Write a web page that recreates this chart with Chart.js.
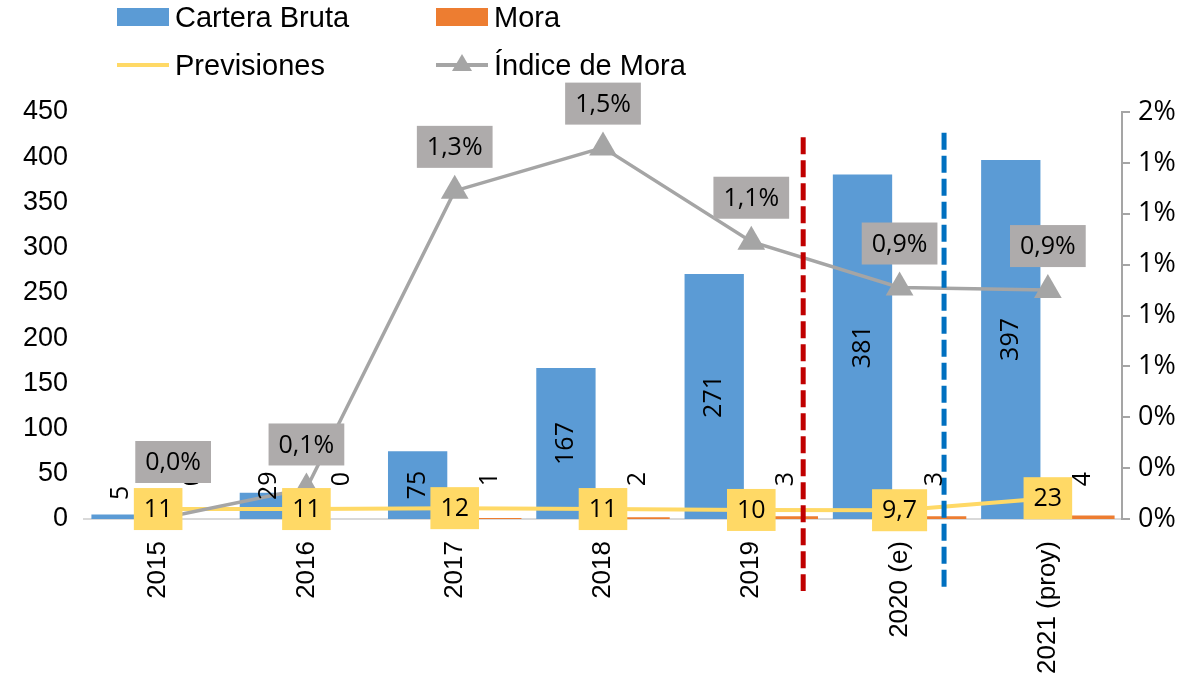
<!DOCTYPE html>
<html>
<head>
<meta charset="utf-8">
<script src="https://cdn.jsdelivr.net/npm/chart.js@4.4.1/dist/chart.umd.min.js"></script>
<style>
  html, body { margin: 0; padding: 0; background: #fff; }
  #wrap { position: relative; width: 1192px; height: 691px; }
  #legend { position: absolute; left: 0; top: 0; font-family: "Liberation Sans", Arial, sans-serif; font-size: 29px; color: #000; }
  .item { position: absolute; display: flex; align-items: center; height: 32px; white-space: nowrap; }
  .swatch { width: 52px; height: 18px; margin-right: 6px; }
  .line { width: 52px; height: 4px; margin-right: 6px; position: relative; }
  .tri { position: absolute; left: 16px; top: -9px; width: 0; height: 0;
         border-left: 10px solid transparent; border-right: 10px solid transparent; border-bottom: 17px solid #A5A5A5; }
</style>
</head>
<body>
<div id="wrap">
  <canvas id="chart" width="1192" height="691"></canvas>
  <div id="legend">
    <div class="item" style="left:117px;top:1px"><span class="swatch" style="background:#5B9BD5"></span>Cartera Bruta</div>
    <div class="item" style="left:436px;top:1px"><span class="swatch" style="background:#ED7D31"></span>Mora</div>
    <div class="item" style="left:117px;top:49px"><span class="line" style="background:#FFD966"></span>Previsiones</div>
    <div class="item" style="left:436px;top:49px"><span class="line" style="background:#A5A5A5"><span class="tri"></span></span>Índice de Mora</div>
  </div>
</div>
<script>
// data
const CATEGORIES = ["2015", "2016", "2017", "2018", "2019", "2020 (e)", "2021 (proy)"];
const CARTERA_BRUTA = [5, 29, 75, 167, 271, 381, 397];
const MORA = [0, 0, 1, 2, 3, 3, 4];
const PREVISIONES = [11, 11, 12, 11, 10, 9.7, 23];
const INDICE_MORA = [0.0, 0.0012, 0.0129, 0.0146, 0.0109, 0.0091, 0.0090];
const LEFT_TICKS = [0, 50, 100, 150, 200, 250, 300, 350, 400, 450];
const RIGHT_TICKS = [0, 0.002, 0.004, 0.006, 0.008, 0.010, 0.012, 0.014, 0.016];

const COLORS = {
  cartera: "#5B9BD5",
  mora: "#ED7D31",
  previsiones: "#FFD966",
  indice: "#A5A5A5",
  indiceBox: "#AEABAB",
};

const AXIS_FONT = '"Liberation Sans", Arial, sans-serif';
const LABEL_FONT = '25px "Open Sans", sans-serif';

function fmtNum(v) {
  return String(v).replace(".", ",");
}
function fmtPct(v) {
  return (v * 100).toFixed(1).replace(".", ",") + "%";
}

function boxLabel(ctx, text, cx, cy, fill) {
  ctx.font = LABEL_FONT;
  const w = ctx.measureText(text).width + 20;
  const h = 42;
  ctx.fillStyle = fill;
  ctx.fillRect(cx - w / 2, cy - h / 2, w, h);
  ctx.fillStyle = "#000";
  ctx.textAlign = "center";
  ctx.textBaseline = "middle";
  ctx.fillText(text, cx, cy + 1);
}

function vertLabel(ctx, text, cx, cy) {
  ctx.save();
  ctx.translate(cx, cy);
  ctx.rotate(-Math.PI / 2);
  ctx.font = LABEL_FONT;
  ctx.fillStyle = "#000";
  ctx.textAlign = "center";
  ctx.textBaseline = "middle";
  ctx.fillText(text, 0, 0);
  ctx.restore();
}

// dashed separators (positions in category units) + all data labels
const overlayPlugin = {
  id: "overlay",
  afterDatasetsDraw(chart, args, opts) {
    const ctx = chart.ctx;
    const xs = chart.scales.x;
    const ys = chart.scales.y;
    const area = chart.chartArea;

    opts.separators.forEach((s) => {
      const x = xs.getPixelForValue(s.at);
      ctx.save();
      ctx.strokeStyle = s.color;
      ctx.lineWidth = 5;
      ctx.setLineDash([17, 6]);
      ctx.beginPath();
      ctx.moveTo(x, ys.getPixelForValue(s.top));
      ctx.lineTo(x, area.bottom + 72);
      ctx.stroke();
      ctx.restore();
    });

    ctx.font = LABEL_FONT;
    chart.getDatasetMeta(0).data.forEach((el, i) => {
      const t = String(CARTERA_BRUTA[i]);
      const half = ctx.measureText(t).width / 2;
      const cy = Math.min((el.y + el.base) / 2, el.base - 19 - half);
      vertLabel(ctx, t, el.x, cy);
    });
    chart.getDatasetMeta(1).data.forEach((el, i) => {
      vertLabel(ctx, String(MORA[i]), el.x - 2, el.base - 40);
    });
    chart.getDatasetMeta(2).data.forEach((el, i) => {
      boxLabel(ctx, fmtNum(PREVISIONES[i]), el.x, el.y, COLORS.previsiones);
    });
    chart.getDatasetMeta(3).data.forEach((el, i) => {
      const n = opts.indexNudge[i] || { dx: 0, dy: 0 };
      boxLabel(ctx, fmtPct(INDICE_MORA[i]), el.x + n.dx, el.y - 44 + n.dy, COLORS.indiceBox);
    });
  },
};

new Chart(document.getElementById("chart"), {
  type: "bar",
  data: {
    labels: CATEGORIES,
    datasets: [
      {
        label: "Cartera Bruta",
        data: CARTERA_BRUTA,
        backgroundColor: COLORS.cartera,
        yAxisID: "y",
        order: 3,
      },
      {
        label: "Mora",
        data: MORA,
        backgroundColor: COLORS.mora,
        yAxisID: "y",
        order: 4,
      },
      {
        type: "line",
        label: "Previsiones",
        data: PREVISIONES,
        borderColor: COLORS.previsiones,
        borderWidth: 4,
        pointRadius: 0,
        yAxisID: "y",
        order: 2,
      },
      {
        type: "line",
        label: "Índice de Mora",
        data: INDICE_MORA,
        borderColor: COLORS.indice,
        borderWidth: 3.5,
        pointStyle: "triangle",
        pointRadius: 16,
        pointBackgroundColor: COLORS.indice,
        pointBorderWidth: 0,
        yAxisID: "y1",
        order: 1,
      },
    ],
  },
  options: {
    responsive: false,
    animation: false,
    devicePixelRatio: 1,
    categoryPercentage: 1.0,
    barPercentage: 0.8,
    layout: { padding: { top: 112, left: 0, right: 0, bottom: 0 } },
    plugins: {
      legend: { display: false },
      tooltip: { enabled: false },
      overlay: {
        separators: [
          { at: 4.35, top: 422, color: "#C00000" },
          { at: 5.3, top: 427, color: "#0070C0" },
        ],
        // the first label was moved by hand in the original
        indexNudge: { 0: { dx: 15, dy: -13 } },
      },
    },
    scales: {
      x: {
        grid: { display: false, drawTicks: false },
        border: { display: true, color: "#D9D9D9", width: 2 },
        ticks: {
          font: { family: AXIS_FONT, size: 26 },
          color: "#000",
          minRotation: 90,
          maxRotation: 90,
          autoSkip: false,
          padding: 22,
        },
        afterFit(s) { s.height = 172; },
      },
      y: {
        position: "left",
        min: 0,
        max: 450,
        grid: { display: false, drawTicks: false },
        border: { display: false },
        ticks: { font: { family: AXIS_FONT, size: 27 }, color: "#000", padding: 16 },
        afterBuildTicks(s) { s.ticks = LEFT_TICKS.map((v) => ({ value: v })); },
        afterFit(s) { s.width = 84; },
      },
      y1: {
        position: "right",
        min: 0,
        max: 0.016,
        grid: { display: true, drawOnChartArea: false, drawTicks: true, tickLength: 8, color: "#A5A5A5", lineWidth: 2 },
        border: { display: true, color: "#A5A5A5", width: 2 },
        ticks: {
          font: { family: '"Open Sans", sans-serif', size: 27 },
          color: "#000",
          padding: 8,
          callback: (v) => Math.round(v * 100) + "%",
        },
        afterBuildTicks(s) { s.ticks = RIGHT_TICKS.map((v) => ({ value: v })); },
        afterFit(s) { s.width = 70; },
      },
    },
  },
  plugins: [overlayPlugin],
});
</script>
</body>
</html>
